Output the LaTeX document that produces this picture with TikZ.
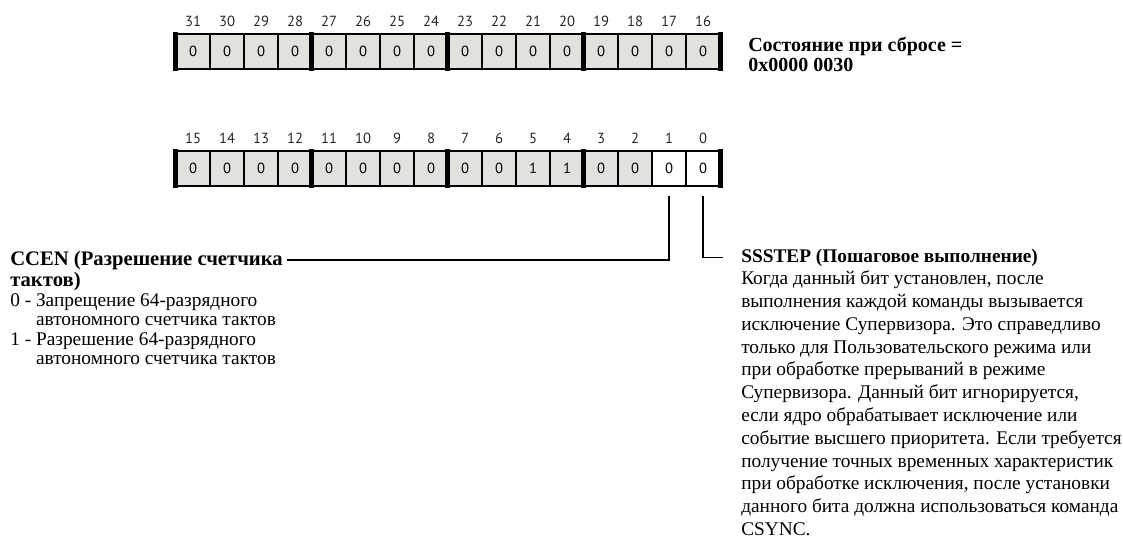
\documentclass[tikz,border=0pt]{standalone}
\usepackage{fontspec}
\setmainfont{Liberation Serif}
\setsansfont{PT Sans}
\usetikzlibrary{positioning}
\definecolor{cellgray}{RGB}{224,226,222}
\begin{document}
\begin{tikzpicture}[x=0.75pt, y=-0.75pt, every node/.style={inner sep=0pt},
  cell/.style={draw, line width=0.9pt, fill=cellgray, minimum width=25.5pt, minimum height=26.25pt, font=\sffamily\fontsize{11}{13}\selectfont},
  bitno/.style={above=5pt, text=black!85, font=\sffamily\fontsize{11}{13}\selectfont},
  bar/.style={line width=3.6pt, shorten <=-0.9pt, shorten >=-0.9pt},
  lead/.style={line width=0.9pt},
  head/.style={font=\bfseries\fontsize{15.5}{17}\selectfont},
  txt/.style={align=left, font=\fontsize{14.5}{14.6}\selectfont}]
\useasboundingbox (0,0) rectangle (1123,543);
\foreach \b [count=\k from 0] in {31,30,...,16}
  \node[cell] (t\b) at (193+34*\k,51.5) {0};
\foreach \b/\v [count=\k from 0] in {15/0,14/0,13/0,12/0,11/0,10/0,9/0,8/0,7/0,6/0,5/1,4/1,3/0,2/0}
  \node[cell] (b\b) at (193+34*\k,168.5) {\v};
\node[cell, fill=white] (b1) at (669,168.5) {0};
\node[cell, fill=white] (b0) at (703,168.5) {0};
\foreach \b in {31,30,...,16} \node[bitno] at (t\b.north) {\b};
\foreach \b in {15,14,...,0} \node[bitno] at (b\b.north) {\b};
\foreach \b in {31,27,23,19} \draw[bar] (t\b.north west) -- (t\b.south west);
\foreach \b in {15,11,7,3} \draw[bar] (b\b.north west) -- (b\b.south west);
\draw[bar] (t16.north east) -- (t16.south east);
\draw[bar] (b0.north east) -- (b0.south east);
\node[head, anchor=base west, font=\bfseries\fontsize{15}{17}\selectfont] (reset) at (748,51) {Состояние при сбросе =};
\node[head, anchor=base west, font=\bfseries\fontsize{15}{17}\selectfont] (resetval) at (748,71) {0x0000 0030};
\node[head, anchor=base west] (ccen) at (10,265) {CCEN (Разрешение счетчика};
\node[txt, anchor=north west] (ccendesc) at ([yshift=-5.25pt]ccen.base west)
  {\textbf{\fontsize{15.5}{14.6}\selectfont тактов)}\\0 - Запрещение 64-разрядного\\\phantom{0 - }автономного счетчика тактов\\1 - Разрешение 64-разрядного\\\phantom{1 - }автономного счетчика тактов};
\node[head, anchor=base west, font=\bfseries\fontsize{14.5}{16}\selectfont] (ssstep) at (741,262) {SSSTEP (Пошаговое выполнение)};
\node[txt, anchor=north west, font=\fontsize{14.5}{17.1}\selectfont] (ssdesc) at ([yshift=-6.5pt]ssstep.base west)
  {Когда данный бит установлен, после\\выполнения каждой команды вызывается\\исключение Супервизора. Это справедливо\\только для Пользовательского режима или\\при обработке прерываний в режиме\\Супервизора. Данный бит игнорируется,\\если ядро обрабатывает исключение или\\событие высшего приоритета. Если требуется\\получение точных временных характеристик\\при обработке исключения, после установки\\данного бита должна использоваться команда\\CSYNC.};
\draw[lead, shorten <=6.75pt] (b1.south) |- ([xshift=3pt]ccen.east);
\draw[lead, shorten <=6.75pt] (b0.south) |- ([xshift=-13.5pt]ssstep.west);
\end{tikzpicture}
\end{document}
